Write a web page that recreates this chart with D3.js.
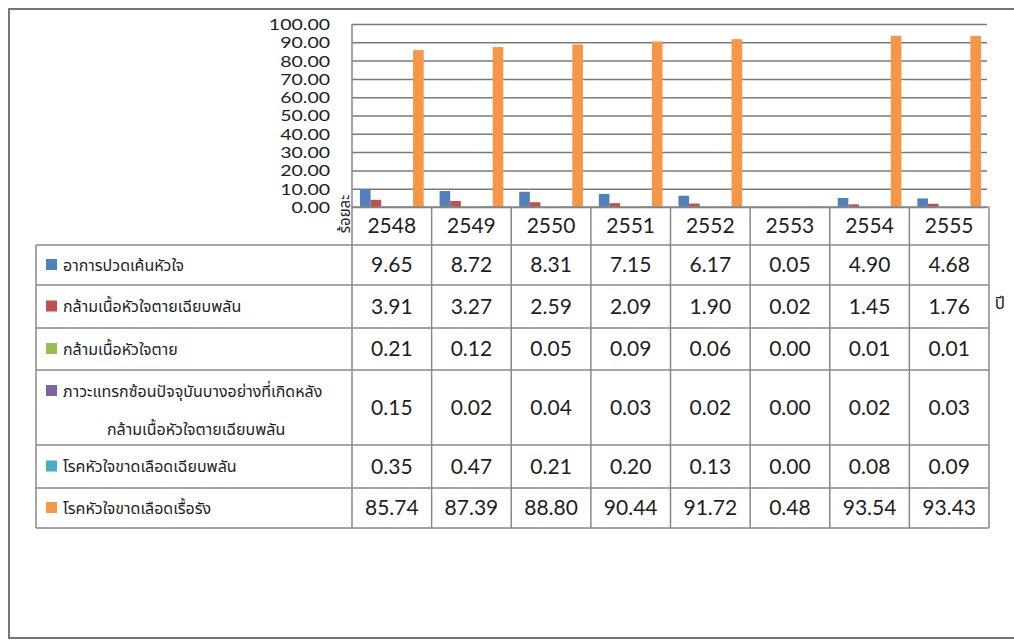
<!DOCTYPE html>
<meta charset="utf-8">
<style>
  body { margin: 0; background: #fff; }
  .num { font-family: Lato, "Open Sans", sans-serif; fill: #1e1e1e; }
  .thai { font-family: "Noto Sans Thai", "Noto Sans", "DejaVu Sans", sans-serif; fill: #1e1e1e; }
  .grid line { stroke: #7a7a7a; stroke-width: 1.5; }
  .grid path { display: none; }
  .tbl { stroke: #888; stroke-width: 1.5; fill: none; }
</style>
<body>
<svg width="1014" height="644"></svg>

<script src="https://cdn.jsdelivr.net/npm/d3@7/dist/d3.min.js"></script>
<script>

// data
var years = ["2548", "2549", "2550", "2551", "2552", "2553", "2554", "2555"];
var seriesNames = [
    "อาการปวดเค้นหัวใจ",
    "กล้ามเนื้อหัวใจตายเฉียบพลัน",
    "กล้ามเนื้อหัวใจตาย",
    "ภาวะแทรกซ้อนปัจจุบันบางอย่างที่เกิดหลัง|กล้ามเนื้อหัวใจตายเฉียบพลัน",
    "โรคหัวใจขาดเลือดเฉียบพลัน",
    "โรคหัวใจขาดเลือดเรื้อรัง"
];
var angina        = [9.65, 8.72, 8.31, 7.15, 6.17, 0.05, 4.90, 4.68];
var acuteMI       = [3.91, 3.27, 2.59, 2.09, 1.90, 0.02, 1.45, 1.76];
var oldMI         = [0.21, 0.12, 0.05, 0.09, 0.06, 0.00, 0.01, 0.01];
var complications = [0.15, 0.02, 0.04, 0.03, 0.02, 0.00, 0.02, 0.03];
var acuteIHD      = [0.35, 0.47, 0.21, 0.20, 0.13, 0.00, 0.08, 0.09];
var chronicIHD    = [85.74, 87.39, 88.80, 90.44, 91.72, 0.48, 93.54, 93.43];
var yTickValues   = [0, 10, 20, 30, 40, 50, 60, 70, 80, 90, 100];
var yTitle = "ร้อยละ";
var xTitle = "ปี";

var seriesValues = [angina, acuteMI, oldMI, complications, acuteIHD, chronicIHD];
var colors = ["#4f81bd", "#c0504d", "#9bbb59", "#8064a2", "#4bacc6", "#f79646"];

var svg = d3.select("svg");
var fmt = d3.format(".2f");

// layout
var plot = {left: 352, right: 989, top: 24, bottom: 207};
var legendLeft = 36;
var rowHeights = [38, 40, 43, 42, 75, 43, 40]; // header + 6 series rows

// outer frame
svg.append("rect")
    .attr("x", 9).attr("y", 9)
    .attr("width", 1020).attr("height", 629)
    .attr("fill", "none").attr("stroke", "#777").attr("stroke-width", 2);

// scales
var x0 = d3.scaleBand().domain(years).range([plot.left, plot.right]);
var x1 = d3.scaleBand().domain(d3.range(seriesNames.length))
    .range([0, x0.bandwidth()]).paddingOuter(0.75);
var y = d3.scaleLinear().domain([0, 100]).range([plot.bottom, plot.top]);

// gridlines + y labels (tight spacing: small font, stretched wide)
svg.append("g")
    .attr("class", "grid")
    .attr("transform", "translate(" + plot.left + ",0)")
    .call(d3.axisLeft(y).tickValues(yTickValues).tickFormat(fmt)
          .tickSizeInner(-(plot.right - plot.left - 2)).tickSizeOuter(0).tickPadding(22))
    .call(function(g) {
        g.selectAll("text")
            .attr("class", "num")
            .style("font-size", "15px")
            .attr("dy", "0.36em")
            .each(function() {
                var w = this.getComputedTextLength();
                d3.select(this)
                    .attr("textLength", w * 1.3)
                    .attr("lengthAdjust", "spacingAndGlyphs");
            });
    });

// y title (rotated)
svg.append("text")
    .attr("class", "thai")
    .attr("transform", "translate(350,214) rotate(-90)")
    .attr("text-anchor", "middle")
    .style("font-size", "15px")
    .text(yTitle);

// bars
var groups = svg.append("g").selectAll("g")
    .data(years)
    .join("g")
    .attr("transform", function(d) { return "translate(" + x0(d) + ",0)"; });

groups.selectAll("rect")
    .data(function(d, i) {
        return seriesValues.map(function(vals, s) { return {s: s, v: vals[i]}; });
    })
    .join("rect")
    .attr("x", function(d) { return x1(d.s); })
    .attr("width", x1.bandwidth())
    .attr("y", function(d) { return y(d.v); })
    .attr("height", function(d) { return y(0) - y(d.v); })
    .attr("fill", function(d) { return colors[d.s]; });

// table geometry
var rowTops = [plot.bottom];
rowHeights.forEach(function(h) { rowTops.push(rowTops[rowTops.length - 1] + h); });
var tableBottom = rowTops[rowTops.length - 1];

var tbl = svg.append("g").attr("class", "tbl");

// horizontal lines
rowTops.forEach(function(yy, i) {
    tbl.append("line")
        .attr("x1", i === 0 ? plot.left : legendLeft)
        .attr("x2", plot.right)
        .attr("y1", yy).attr("y2", yy);
});
// plot left edge down to table bottom
tbl.append("line")
    .attr("x1", plot.left).attr("x2", plot.left)
    .attr("y1", plot.top).attr("y2", tableBottom);
// legend column left edge
tbl.append("line")
    .attr("x1", legendLeft).attr("x2", legendLeft)
    .attr("y1", rowTops[1]).attr("y2", tableBottom);
// year column dividers
years.forEach(function(yr) {
    var xx = x0(yr) + x0.bandwidth();
    tbl.append("line")
        .attr("x1", xx).attr("x2", xx)
        .attr("y1", plot.bottom).attr("y2", tableBottom);
});

// year header labels
svg.append("g").selectAll("text")
    .data(years)
    .join("text")
    .attr("class", "num")
    .attr("x", function(d) { return x0(d) + x0.bandwidth() / 2; })
    .attr("y", (rowTops[0] + rowTops[1]) / 2)
    .attr("dy", "0.35em")
    .attr("text-anchor", "middle")
    .style("font-size", "21px")
    .text(function(d) { return d; });

// series rows
seriesNames.forEach(function(name, s) {
    var top = rowTops[s + 1], bot = rowTops[s + 2];
    var mid = (top + bot) / 2;
    var lines = name.split("|");
    var firstY = lines.length > 1 ? top + 21 : mid;

    svg.append("rect")
        .attr("x", 46).attr("y", firstY - 6)
        .attr("width", 11).attr("height", 11)
        .attr("fill", colors[s]);

    lines.forEach(function(line, k) {
        svg.append("text")
            .attr("class", "thai")
            .attr("x", k === 0 ? 63 : 107)
            .attr("y", firstY + k * 38)
            .attr("dy", "0.35em")
            .style("font-size", "16px")
            .text(line);
    });

    svg.append("g").selectAll("text")
        .data(seriesValues[s])
        .join("text")
        .attr("class", "num")
        .attr("x", function(d, i) { return x0(years[i]) + x0.bandwidth() / 2; })
        .attr("y", mid)
        .attr("dy", "0.35em")
        .attr("text-anchor", "middle")
        .style("font-size", "21px")
        .text(function(d) { return fmt(d); });
});

// x title
svg.append("text")
    .attr("class", "thai")
    .attr("x", 1000).attr("y", 303)
    .attr("dy", "0.35em")
    .attr("text-anchor", "middle")
    .style("font-size", "17px")
    .text(xTitle);

</script>
</body>
